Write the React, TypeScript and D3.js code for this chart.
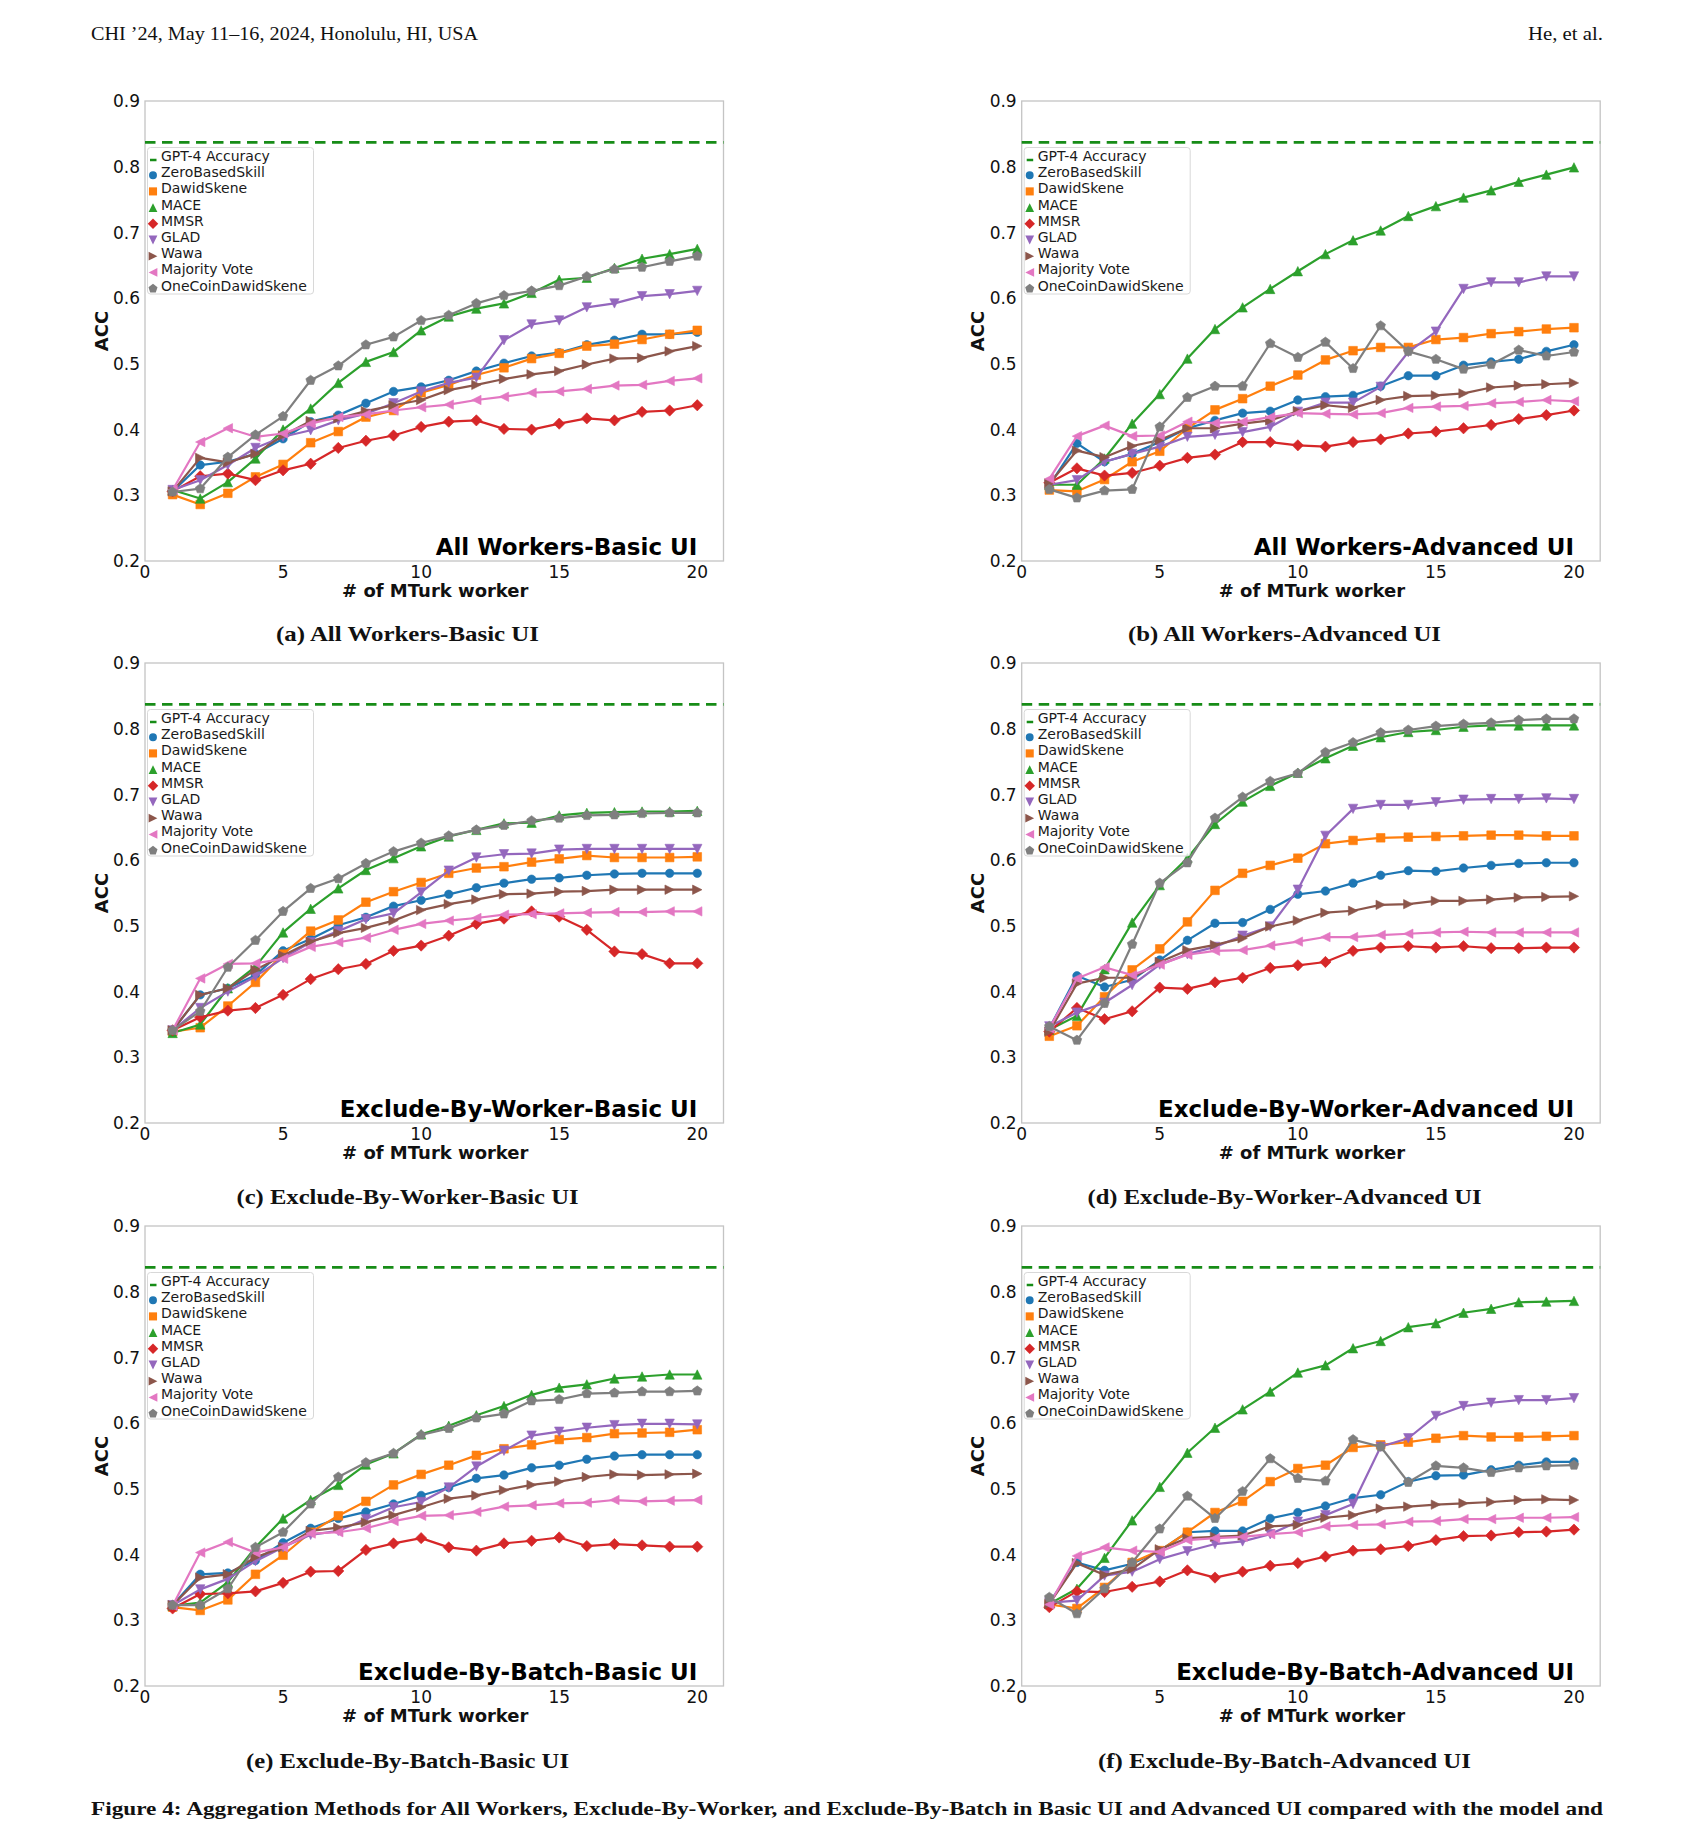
import React, { useRef, useEffect } from 'react';
import * as d3 from 'd3';

// x values: number of MTurk workers
const workerCounts = [1, 2, 3, 4, 5, 6, 7, 8, 9, 10, 11, 12, 13, 14, 15, 16, 17, 18, 19, 20];

const methodNames = [
  'ZeroBasedSkill',
  'DawidSkene',
  'MACE',
  'MMSR',
  'GLAD',
  'Wawa',
  'Majority Vote',
  'OneCoinDawidSkene'
];
const methodColors = ['#1f77b4', '#ff7f0e', '#2ca02c', '#d62728', '#9467bd', '#8c564b', '#e377c2', '#7f7f7f'];
const methodMarkers = ['circle', 'square', 'up', 'diamond', 'down', 'right', 'left', 'pentagon'];

const gpt4Accuracy = 0.837;
const yTickValues = [0.2, 0.3, 0.4, 0.5, 0.6, 0.7, 0.8, 0.9];
const xTickValues = [0, 5, 10, 15, 20];

// rows follow methodNames order
const allWorkersBasic = [
  [0.306, 0.346, 0.351, 0.363, 0.386, 0.412, 0.422, 0.440, 0.458, 0.465, 0.475, 0.489, 0.501, 0.512, 0.517, 0.529, 0.536, 0.545, 0.545, 0.548],
  [0.301, 0.286, 0.303, 0.328, 0.347, 0.380, 0.397, 0.419, 0.429, 0.456, 0.468, 0.483, 0.494, 0.508, 0.516, 0.527, 0.530, 0.537, 0.545, 0.551],
  [0.308, 0.295, 0.320, 0.356, 0.400, 0.432, 0.471, 0.503, 0.518, 0.551, 0.572, 0.584, 0.592, 0.608, 0.628, 0.631, 0.646, 0.660, 0.667, 0.675],
  [0.306, 0.329, 0.333, 0.323, 0.338, 0.348, 0.372, 0.383, 0.391, 0.404, 0.412, 0.414, 0.401, 0.400, 0.409, 0.417, 0.414, 0.427, 0.429, 0.437],
  [0.308, 0.323, 0.346, 0.372, 0.389, 0.399, 0.414, 0.424, 0.440, 0.458, 0.471, 0.479, 0.536, 0.560, 0.566, 0.586, 0.592, 0.603, 0.606, 0.611],
  [0.306, 0.357, 0.350, 0.363, 0.391, 0.413, 0.417, 0.428, 0.437, 0.445, 0.460, 0.468, 0.477, 0.484, 0.489, 0.499, 0.508, 0.509, 0.519, 0.527],
  [0.308, 0.381, 0.402, 0.389, 0.394, 0.409, 0.419, 0.423, 0.429, 0.434, 0.438, 0.445, 0.450, 0.456, 0.458, 0.462, 0.467, 0.468, 0.474, 0.478],
  [0.305, 0.310, 0.358, 0.392, 0.420, 0.475, 0.497, 0.529, 0.541, 0.566, 0.574, 0.592, 0.604, 0.611, 0.619, 0.633, 0.644, 0.647, 0.656, 0.664]
];

const allWorkersAdvanced = [
  [0.315, 0.379, 0.351, 0.363, 0.381, 0.402, 0.414, 0.425, 0.428, 0.445, 0.450, 0.452, 0.466, 0.482, 0.482, 0.498, 0.503, 0.507, 0.519, 0.529],
  [0.308, 0.306, 0.324, 0.351, 0.367, 0.402, 0.430, 0.447, 0.466, 0.483, 0.506, 0.520, 0.525, 0.525, 0.537, 0.540, 0.546, 0.549, 0.553, 0.555],
  [0.316, 0.316, 0.356, 0.409, 0.454, 0.508, 0.553, 0.586, 0.614, 0.641, 0.667, 0.688, 0.703, 0.725, 0.740, 0.753, 0.764, 0.777, 0.788, 0.799],
  [0.319, 0.341, 0.330, 0.334, 0.345, 0.357, 0.362, 0.381, 0.381, 0.376, 0.374, 0.381, 0.385, 0.394, 0.397, 0.402, 0.407, 0.416, 0.422, 0.429],
  [0.316, 0.323, 0.351, 0.363, 0.374, 0.389, 0.392, 0.396, 0.404, 0.427, 0.441, 0.441, 0.465, 0.518, 0.549, 0.614, 0.624, 0.624, 0.633, 0.633],
  [0.318, 0.368, 0.358, 0.375, 0.384, 0.402, 0.402, 0.409, 0.414, 0.428, 0.437, 0.433, 0.445, 0.451, 0.452, 0.455, 0.464, 0.467, 0.469, 0.471],
  [0.325, 0.390, 0.406, 0.390, 0.391, 0.412, 0.410, 0.412, 0.419, 0.425, 0.424, 0.423, 0.425, 0.433, 0.435, 0.436, 0.440, 0.442, 0.445, 0.443],
  [0.309, 0.296, 0.307, 0.309, 0.404, 0.449, 0.466, 0.466, 0.531, 0.510, 0.533, 0.493, 0.558, 0.519, 0.507, 0.492, 0.499, 0.521, 0.512, 0.518]
];

const byWorkerBasic = [
  [0.341, 0.395, 0.405, 0.425, 0.462, 0.480, 0.501, 0.513, 0.530, 0.539, 0.548, 0.558, 0.565, 0.571, 0.573, 0.577, 0.579, 0.580, 0.580, 0.580],
  [0.339, 0.345, 0.378, 0.414, 0.457, 0.492, 0.509, 0.536, 0.552, 0.566, 0.580, 0.588, 0.590, 0.597, 0.602, 0.607, 0.604, 0.604, 0.604, 0.605],
  [0.337, 0.350, 0.405, 0.438, 0.490, 0.526, 0.557, 0.585, 0.603, 0.621, 0.636, 0.646, 0.656, 0.657, 0.668, 0.672, 0.673, 0.674, 0.674, 0.675],
  [0.341, 0.361, 0.371, 0.375, 0.395, 0.419, 0.434, 0.442, 0.462, 0.470, 0.485, 0.503, 0.511, 0.522, 0.514, 0.494, 0.461, 0.457, 0.443, 0.443],
  [0.341, 0.375, 0.400, 0.423, 0.451, 0.475, 0.492, 0.510, 0.519, 0.551, 0.584, 0.604, 0.609, 0.610, 0.616, 0.617, 0.617, 0.617, 0.617, 0.617],
  [0.341, 0.395, 0.405, 0.433, 0.455, 0.476, 0.489, 0.497, 0.508, 0.524, 0.533, 0.540, 0.548, 0.549, 0.552, 0.553, 0.555, 0.555, 0.555, 0.555],
  [0.341, 0.420, 0.442, 0.443, 0.450, 0.468, 0.475, 0.482, 0.494, 0.503, 0.508, 0.512, 0.517, 0.518, 0.519, 0.520, 0.521, 0.521, 0.522, 0.522],
  [0.341, 0.370, 0.437, 0.478, 0.522, 0.557, 0.572, 0.595, 0.613, 0.626, 0.637, 0.646, 0.653, 0.660, 0.664, 0.668, 0.669, 0.671, 0.672, 0.672]
];

const byWorkerAdvanced = [
  [0.344, 0.424, 0.407, 0.418, 0.448, 0.478, 0.504, 0.505, 0.525, 0.548, 0.553, 0.565, 0.577, 0.584, 0.583, 0.588, 0.592, 0.595, 0.596, 0.596],
  [0.332, 0.348, 0.392, 0.433, 0.465, 0.506, 0.554, 0.580, 0.592, 0.603, 0.625, 0.630, 0.634, 0.635, 0.636, 0.637, 0.638, 0.638, 0.637, 0.637],
  [0.342, 0.363, 0.434, 0.505, 0.562, 0.603, 0.655, 0.689, 0.713, 0.733, 0.755, 0.774, 0.787, 0.795, 0.798, 0.803, 0.805, 0.805, 0.805, 0.805],
  [0.339, 0.375, 0.358, 0.370, 0.406, 0.404, 0.414, 0.421, 0.436, 0.440, 0.445, 0.462, 0.467, 0.469, 0.467, 0.469, 0.466, 0.466, 0.467, 0.467],
  [0.347, 0.368, 0.383, 0.410, 0.441, 0.457, 0.468, 0.485, 0.499, 0.555, 0.637, 0.678, 0.684, 0.684, 0.688, 0.692, 0.693, 0.693, 0.694, 0.693],
  [0.339, 0.412, 0.421, 0.421, 0.445, 0.463, 0.471, 0.481, 0.499, 0.508, 0.520, 0.523, 0.532, 0.533, 0.538, 0.538, 0.540, 0.543, 0.544, 0.545],
  [0.344, 0.420, 0.437, 0.425, 0.441, 0.456, 0.462, 0.463, 0.470, 0.476, 0.483, 0.483, 0.486, 0.488, 0.490, 0.491, 0.490, 0.490, 0.490, 0.490],
  [0.347, 0.326, 0.382, 0.472, 0.565, 0.596, 0.664, 0.696, 0.720, 0.732, 0.764, 0.779, 0.794, 0.798, 0.804, 0.807, 0.809, 0.813, 0.815, 0.815]
];

const byBatchBasic = [
  [0.323, 0.370, 0.372, 0.391, 0.418, 0.440, 0.455, 0.465, 0.477, 0.490, 0.502, 0.516, 0.521, 0.532, 0.536, 0.545, 0.550, 0.552, 0.552, 0.552],
  [0.320, 0.315, 0.331, 0.370, 0.399, 0.434, 0.459, 0.481, 0.506, 0.522, 0.536, 0.551, 0.561, 0.567, 0.575, 0.578, 0.584, 0.585, 0.586, 0.590],
  [0.322, 0.327, 0.358, 0.411, 0.455, 0.483, 0.506, 0.537, 0.554, 0.583, 0.596, 0.612, 0.626, 0.643, 0.654, 0.659, 0.668, 0.671, 0.674, 0.674],
  [0.318, 0.340, 0.341, 0.344, 0.357, 0.374, 0.375, 0.407, 0.417, 0.425, 0.411, 0.406, 0.417, 0.421, 0.426, 0.413, 0.416, 0.414, 0.412, 0.412],
  [0.323, 0.347, 0.363, 0.390, 0.411, 0.430, 0.436, 0.454, 0.472, 0.480, 0.502, 0.534, 0.558, 0.581, 0.587, 0.593, 0.597, 0.599, 0.599, 0.598],
  [0.323, 0.365, 0.370, 0.396, 0.411, 0.436, 0.441, 0.449, 0.460, 0.472, 0.485, 0.490, 0.498, 0.506, 0.511, 0.518, 0.522, 0.521, 0.522, 0.523],
  [0.322, 0.403, 0.419, 0.403, 0.411, 0.432, 0.434, 0.440, 0.451, 0.459, 0.460, 0.465, 0.473, 0.475, 0.478, 0.479, 0.483, 0.481, 0.482, 0.483],
  [0.323, 0.323, 0.348, 0.411, 0.434, 0.477, 0.518, 0.540, 0.554, 0.582, 0.592, 0.608, 0.614, 0.634, 0.636, 0.645, 0.646, 0.648, 0.648, 0.649]
];

const byBatchAdvanced = [
  [0.327, 0.388, 0.376, 0.386, 0.406, 0.434, 0.436, 0.436, 0.455, 0.464, 0.474, 0.486, 0.491, 0.511, 0.520, 0.521, 0.529, 0.536, 0.541, 0.541],
  [0.324, 0.318, 0.350, 0.388, 0.406, 0.434, 0.464, 0.481, 0.511, 0.531, 0.536, 0.563, 0.567, 0.571, 0.577, 0.581, 0.579, 0.579, 0.580, 0.581],
  [0.325, 0.348, 0.395, 0.452, 0.503, 0.555, 0.593, 0.621, 0.648, 0.677, 0.688, 0.714, 0.725, 0.746, 0.752, 0.768, 0.774, 0.784, 0.785, 0.786],
  [0.320, 0.344, 0.343, 0.351, 0.359, 0.376, 0.365, 0.374, 0.383, 0.387, 0.397, 0.406, 0.408, 0.413, 0.422, 0.428, 0.429, 0.434, 0.435, 0.438],
  [0.327, 0.330, 0.368, 0.374, 0.393, 0.405, 0.416, 0.420, 0.431, 0.450, 0.460, 0.477, 0.564, 0.577, 0.611, 0.626, 0.631, 0.635, 0.635, 0.638],
  [0.325, 0.387, 0.369, 0.378, 0.408, 0.425, 0.427, 0.429, 0.443, 0.445, 0.456, 0.460, 0.470, 0.473, 0.476, 0.478, 0.480, 0.483, 0.484, 0.483],
  [0.324, 0.398, 0.411, 0.406, 0.404, 0.422, 0.425, 0.427, 0.431, 0.434, 0.443, 0.445, 0.446, 0.450, 0.451, 0.454, 0.454, 0.456, 0.456, 0.457],
  [0.335, 0.310, 0.348, 0.388, 0.439, 0.489, 0.455, 0.496, 0.546, 0.516, 0.512, 0.575, 0.564, 0.510, 0.535, 0.532, 0.525, 0.532, 0.535, 0.536]
];

const panelTitles = [
  'All Workers-Basic UI',
  'All Workers-Advanced UI',
  'Exclude-By-Worker-Basic UI',
  'Exclude-By-Worker-Advanced UI',
  'Exclude-By-Batch-Basic UI',
  'Exclude-By-Batch-Advanced UI'
];
const panelCaptions = [
  '(a) All Workers-Basic UI',
  '(b) All Workers-Advanced UI',
  '(c) Exclude-By-Worker-Basic UI',
  '(d) Exclude-By-Worker-Advanced UI',
  '(e) Exclude-By-Batch-Basic UI',
  '(f) Exclude-By-Batch-Advanced UI'
];
const panelValues = [allWorkersBasic, allWorkersAdvanced, byWorkerBasic, byWorkerAdvanced, byBatchBasic, byBatchAdvanced];

const PLOT_W = 578.5;
const PLOT_H = 460;
const SANS = "'DejaVu Sans', sans-serif";
const SERIF = "'Liberation Serif', 'DejaVu Serif', serif";

function markerPath(kind: string, s: number): string {
  switch (kind) {
    case 'circle': {
      const r = s * 0.9;
      return `M${r},0A${r},${r} 0 1,1 ${-r},0A${r},${r} 0 1,1 ${r},0Z`;
    }
    case 'square': {
      const h = s * 0.92;
      return `M${-h},${-h}H${h}V${h}H${-h}Z`;
    }
    case 'diamond': {
      const h = s * 1.2;
      return `M0,${-h}L${h},0L0,${h}L${-h},0Z`;
    }
    case 'up':
      return `M0,${-s}L${s},${s}L${-s},${s}Z`;
    case 'down':
      return `M0,${s}L${s},${-s}L${-s},${-s}Z`;
    case 'right':
      return `M${s},0L${-s},${-s}L${-s},${s}Z`;
    case 'left':
      return `M${-s},0L${s},${-s}L${s},${s}Z`;
    case 'pentagon': {
      const r = s * 1.08;
      const pts = [0, 1, 2, 3, 4].map(k => {
        const a = -Math.PI / 2 + (k * 2 * Math.PI) / 5;
        return `${(r * Math.cos(a)).toFixed(2)},${(r * Math.sin(a)).toFixed(2)}`;
      });
      return `M${pts.join('L')}Z`;
    }
    default:
      return '';
  }
}

interface PanelProps {
  left: number;
  top: number;
  values: number[][];
  title: string;
}

function Panel({ left, top, values, title }: PanelProps) {
  const gRef = useRef<SVGGElement>(null);

  useEffect(() => {
    const g = d3.select(gRef.current);
    g.selectAll('*').remove();

    const x = d3.scaleLinear().domain([0, 20.95]).range([0, PLOT_W]);
    const y = d3.scaleLinear().domain([0.2, 0.9]).range([PLOT_H, 0]);

    // frame
    g.append('rect')
      .attr('width', PLOT_W)
      .attr('height', PLOT_H)
      .attr('fill', '#fff')
      .attr('stroke', '#c4c4c4')
      .attr('stroke-width', 1.3);

    // GPT-4 reference
    g.append('line')
      .attr('x1', 0)
      .attr('x2', PLOT_W)
      .attr('y1', y(gpt4Accuracy))
      .attr('y2', y(gpt4Accuracy))
      .attr('stroke', '#178c17')
      .attr('stroke-width', 2.7)
      .attr('stroke-dasharray', '10.5,6.5');

    const line = d3.line<[number, number]>()
      .x(d => x(d[0]))
      .y(d => y(d[1]));

    values.forEach((vals, i) => {
      const pts: [number, number][] = workerCounts.map((w, j) => [w, vals[j]]);
      const color = methodColors[i];
      const s = g.append('g');
      s.append('path')
        .datum(pts)
        .attr('d', line)
        .attr('fill', 'none')
        .attr('stroke', color)
        .attr('stroke-width', 2.2)
        .attr('stroke-linejoin', 'round');
      s.selectAll('path.m')
        .data(pts)
        .enter()
        .append('path')
        .attr('class', 'm')
        .attr('transform', d => `translate(${x(d[0])},${y(d[1])})`)
        .attr('d', markerPath(methodMarkers[i], 4.7))
        .attr('fill', color)
        .attr('stroke', color)
        .attr('stroke-width', 0.6);
    });

    // tick labels
    g.append('g')
      .selectAll('text')
      .data(yTickValues)
      .enter()
      .append('text')
      .attr('x', -5)
      .attr('y', d => y(d) + 6.2)
      .attr('text-anchor', 'end')
      .attr('font-family', SANS)
      .attr('font-size', 17)
      .attr('fill', '#111')
      .text(d => d.toFixed(1));

    g.append('g')
      .selectAll('text')
      .data(xTickValues)
      .enter()
      .append('text')
      .attr('x', d => x(d))
      .attr('y', PLOT_H + 17)
      .attr('text-anchor', 'middle')
      .attr('font-family', SANS)
      .attr('font-size', 17)
      .attr('fill', '#111')
      .text(d => String(d));

    // axis labels
    g.append('text')
      .attr('transform', `translate(${-44 + 6.5},${PLOT_H / 2}) rotate(-90)`)
      .attr('text-anchor', 'middle')
      .attr('font-family', SANS)
      .attr('font-weight', 'bold')
      .attr('font-size', 18)
      .attr('fill', '#111')
      .text('ACC');

    g.append('text')
      .attr('x', PLOT_W / 2 + 1)
      .attr('y', PLOT_H + 35.5)
      .attr('text-anchor', 'middle')
      .attr('font-family', SANS)
      .attr('font-weight', 'bold')
      .attr('font-size', 18)
      .attr('fill', '#111')
      .text('# of MTurk worker');

    // title inside plot
    g.append('text')
      .attr('x', x(20))
      .attr('y', PLOT_H - 6.2)
      .attr('text-anchor', 'end')
      .attr('font-family', SANS)
      .attr('font-weight', 'bold')
      .attr('font-size', 23)
      .attr('fill', '#000')
      .text(title);

    // legend
    const lg = g.append('g').attr('transform', `translate(2.5,${PLOT_H * 0.1 + 0.5})`);
    lg.append('rect')
      .attr('width', 166)
      .attr('height', 146.5)
      .attr('rx', 3)
      .attr('fill', '#fff')
      .attr('fill-opacity', 0.8)
      .attr('stroke', '#d8d8d8')
      .attr('stroke-width', 1);

    const labels = ['GPT-4 Accuracy', ...methodNames];
    labels.forEach((name, k) => {
      const cy = 8.5 + k * 16.2;
      if (k === 0) {
        lg.append('line')
          .attr('x1', 2.5)
          .attr('x2', 9)
          .attr('y1', cy + 4)
          .attr('y2', cy + 4)
          .attr('stroke', '#178c17')
          .attr('stroke-width', 2.5);
      } else {
        lg.append('path')
          .attr('transform', `translate(5.5,${cy + 3})`)
          .attr('d', markerPath(methodMarkers[k - 1], 4.4))
          .attr('fill', methodColors[k - 1]);
      }
      lg.append('text')
        .attr('x', 13.5)
        .attr('y', cy + 5)
        .attr('font-family', SANS)
        .attr('font-size', 14)
        .attr('fill', '#1a1a1a')
        .text(name);
    });
  }, [values, title]);

  return <g ref={gRef} transform={`translate(${left},${top})`} />;
}

const panelLefts = [145, 1021.7];
const panelTops = [101, 663, 1226];
const captionCenters = [407.5, 1284.5];
const captionBaselines = [641, 1204, 1768];
const captionWidths = [263, 313, 342, 394, 323, 373];

export default function App() {
  return (
    <div style={{ position: 'absolute', left: 0, top: 0 }}>
      <svg width={1694} height={1821} style={{ display: 'block', background: '#fff' }}>
        <text x={91} y={39.5} fontFamily={SERIF} fontSize={18} fill="#111" textLength={387} lengthAdjust="spacingAndGlyphs">
          CHI ’24, May 11–16, 2024, Honolulu, HI, USA
        </text>
        <text x={1528} y={39.5} fontFamily={SERIF} fontSize={18} fill="#111" textLength={75} lengthAdjust="spacingAndGlyphs">
          He, et al.
        </text>

        {panelValues.map((vals, i) => (
          <Panel
            key={i}
            left={panelLefts[i % 2]}
            top={panelTops[Math.floor(i / 2)]}
            values={vals}
            title={panelTitles[i]}
          />
        ))}

        {panelCaptions.map((c, i) => (
          <text
            key={c}
            x={captionCenters[i % 2]}
            y={captionBaselines[Math.floor(i / 2)]}
            textAnchor="middle"
            fontFamily={SERIF}
            fontWeight="bold"
            fontSize={21}
            fill="#111"
            textLength={captionWidths[i]}
            lengthAdjust="spacingAndGlyphs"
          >
            {c}
          </text>
        ))}

        <text x={91} y={1815} fontFamily={SERIF} fontWeight="bold" fontSize={18} fill="#111" textLength={1512} lengthAdjust="spacingAndGlyphs">
          Figure 4: Aggregation Methods for All Workers, Exclude-By-Worker, and Exclude-By-Batch in Basic UI and Advanced UI compared with the model and
        </text>
      </svg>
    </div>
  );
}
